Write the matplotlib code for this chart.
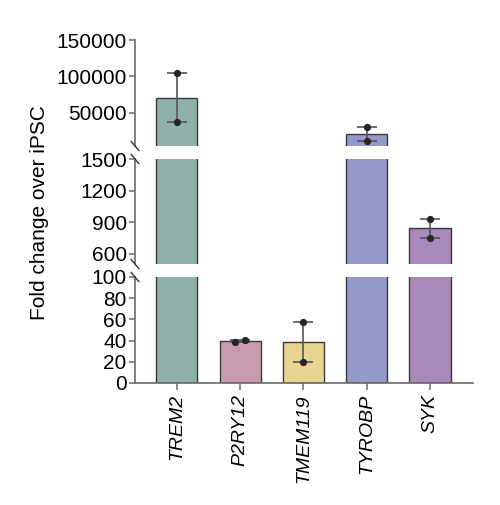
import numpy as np
import matplotlib
matplotlib.use("Agg")
import matplotlib.pyplot as plt

plt.rcParams["font.family"] = ["Liberation Sans", "DejaVu Sans"]

# Data: two replicates per gene, bar = mean
genes = ["TREM2", "P2RY12", "TMEM119", "TYROBP", "SYK"]
rep1 = [104000, 38.5, 58, 29500, 930]
rep2 = [36500, 40.8, 20, 11500, 750]
colors = ["#8fb1aa", "#c89aae", "#e9d592", "#9599c9", "#a78ab9"]

# three stacked segments of the broken y axis (top -> bottom)
seg_limits = [(4000, 150000), (500, 1500), (0, 100)]
seg_ticks = [[50000, 100000, 150000], [600, 900, 1200, 1500], [0, 20, 40, 60, 80, 100]]

means = [(a + b) / 2 for a, b in zip(rep1, rep2)]
x = np.arange(len(genes))

fig = plt.figure(figsize=(5, 5.05), dpi=100)
W, H = 500, 505
left, right = 135, 473
seg_px = [(40, 146), (159, 264), (277, 383)]  # top/bottom pixel rows of each segment

spine_col = "#6a6a6a"
axes = []
for (ytop, ybot), lims, ticks in zip(seg_px, seg_limits, seg_ticks):
    ax = fig.add_axes([left / W, 1 - ybot / H, (right - left) / W, (ybot - ytop) / H])
    ax.bar(x, means, width=0.65, color=colors, edgecolor="#3a3a3a", linewidth=1.0, zorder=2)
    for i in range(len(genes)):
        lo, hi = min(rep1[i], rep2[i]), max(rep1[i], rep2[i])
        if hi < lims[0] or lo > lims[1]:
            continue
        ax.errorbar(x[i], means[i], yerr=[[means[i] - lo], [hi - means[i]]], fmt="none",
                    ecolor="#555555", elinewidth=1.2, capsize=7.5, capthick=1.2, zorder=3)
        # spread near-identical replicates sideways like a swarm
        dx = 0.08 if abs(rep1[i] - rep2[i]) < 0.1 * means[i] else 0.0
        ax.plot([x[i] - dx, x[i] + dx], [rep1[i], rep2[i]], "o", color="#262626",
                markersize=4.2, zorder=4)
    ax.set_xlim(-0.66, 4.68)
    ax.set_ylim(*lims)
    ax.set_yticks(ticks)
    ax.set_yticklabels([str(t) for t in ticks])
    for s in ["top", "right"]:
        ax.spines[s].set_visible(False)
    ax.spines["left"].set_color(spine_col)
    ax.spines["left"].set_linewidth(1.2)
    ax.tick_params(axis="y", labelsize=15, length=4, width=1.1, color=spine_col, pad=2)
    axes.append(ax)

for ax in axes[:-1]:
    ax.spines["bottom"].set_visible(False)
    ax.set_xticks([])

axb = axes[-1]
axb.spines["bottom"].set_color(spine_col)
axb.spines["bottom"].set_linewidth(1.2)
axb.set_xticks(x)
axb.set_xticklabels(genes, rotation=90, fontsize=14, style="italic", ha="center", va="top")
axb.tick_params(axis="x", length=5, width=1.1, color=spine_col, pad=3)

# break marks on the left spine
dx_px, dy_px = 3.8, 4.5
for (ytop, ybot) in seg_px:
    for yb in (ytop, ybot):
        if yb in (40, 383):
            continue
        fig.add_artist(plt.Line2D([(left - dx_px) / W, (left + dx_px) / W],
                                  [1 - (yb - dy_px) / H, 1 - (yb + dy_px) / H],
                                  color="#333333", linewidth=1.0))

fig.text(40 / W, 1 - 213 / H, "Fold change over iPSC", rotation=90, fontsize=15,
         ha="center", va="center")

fig.savefig("out.png", dpi=100)
